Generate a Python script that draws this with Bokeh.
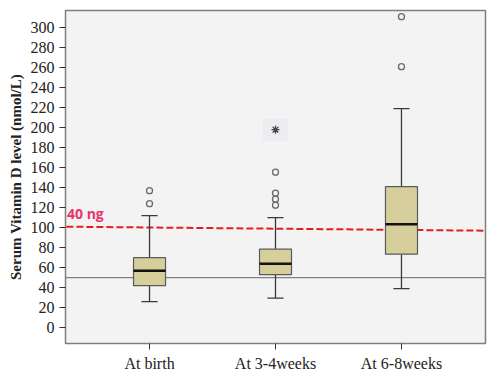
from bokeh.plotting import figure
from bokeh.models import FixedTicker, Label, ColumnDataSource
from bokeh.embed import file_html
from bokeh.resources import INLINE

categories = ["At birth", "At 3-4weeks", "At 6-8weeks"]
xpos = [1, 2, 3]
q1 = [41.5, 52.5, 73]
median = [56.5, 63.5, 103]
q3 = [69.5, 78, 140.5]
whisk_lo = [25.5, 29, 38.5]
whisk_hi = [111.5, 109.5, 218.5]
outlier_x = [1, 1, 2, 2, 2, 2, 3, 3]
outlier_y = [123.5, 136.5, 122, 128, 134, 155, 260.5, 310.5]
extreme_x = [2]
extreme_y = [197.5]
yticks = list(range(0, 301, 20))
ref_line_y = [100.5, 96.5]
ref_line_x = [0.34, 3.667]
low_line_y = 49.5

p = figure(width=496, height=379, x_range=(0.333, 3.667), y_range=(-16.3, 316.7),
           output_backend="svg", toolbar_location=None,
           min_border_left=65, min_border_right=11, min_border_top=10, min_border_bottom=36)
p.background_fill_color = "#f3f3f3"
p.border_fill_color = "white"
p.outline_line_color = "#7f7f7f"
p.outline_line_width = 1.5
p.grid.visible = False

src = ColumnDataSource(dict(x=xpos, q1=q1, med=median, q3=q3, lo=whisk_lo, hi=whisk_hi))

# reference lines
p.line(ref_line_x, ref_line_y, line_color="#e41e1e", line_width=2, line_dash="7 3")
p.line([0.333, 3.667], [low_line_y, low_line_y], line_color="#808080", line_width=1.3)

# whiskers
p.segment(x0="x", y0="lo", x1="x", y1="q1", source=src, line_color="#3a3a3a", line_width=1.3)
p.segment(x0="x", y0="q3", x1="x", y1="hi", source=src, line_color="#3a3a3a", line_width=1.3)
capw = 0.064
p.segment(x0=[x - capw for x in xpos], y0=whisk_lo, x1=[x + capw for x in xpos], y1=whisk_lo,
          line_color="#3a3a3a", line_width=1.3)
p.segment(x0=[x - capw for x in xpos], y0=whisk_hi, x1=[x + capw for x in xpos], y1=whisk_hi,
          line_color="#3a3a3a", line_width=1.3)

# boxes
p.vbar(x="x", top="q3", bottom="q1", width=0.254, source=src,
       fill_color="#d6cf9c", line_color="#5a5a5a", line_width=1.2)
p.segment(x0=[x - 0.127 for x in xpos], y0=median, x1=[x + 0.127 for x in xpos], y1=median,
          line_color="#111111", line_width=2.6)

# outliers
p.scatter(outlier_x, outlier_y, size=6, marker="circle", fill_color=None,
          line_color="#6a6a6a", line_width=1.3)
p.rect(extreme_x, extreme_y, width=0.2, height=22, fill_color="#ebedf0", line_color=None)
p.scatter(extreme_x, extreme_y, size=8, marker="asterisk", line_color="#444444", line_width=1.3)

lab = Label(x=0.345, y=104, text="40 ng", text_color="#e8336d", text_font="Open Sans",
            text_font_style="bold", text_font_size="14px")
p.add_layout(lab)

p.xaxis.ticker = FixedTicker(ticks=xpos)
p.xaxis.major_label_overrides = {x: c for x, c in zip(xpos, categories)}
p.yaxis.ticker = FixedTicker(ticks=yticks)
p.xaxis.minor_tick_line_color = None
p.yaxis.minor_tick_line_color = None
for ax in (p.xaxis[0], p.yaxis[0]):
    ax.axis_line_color = None
    ax.major_tick_line_color = "#333333"
    ax.major_tick_out = 6
    ax.major_tick_in = 0
    ax.major_label_text_font = "Liberation Serif"
    ax.major_label_text_font_size = "16px"
    ax.major_label_text_color = "#222222"
    ax.major_label_standoff = 5
p.yaxis.axis_label = "Serum Vitamin D level (nmol/L)"
p.yaxis.axis_label_text_font = "Liberation Serif"
p.yaxis.axis_label_text_font_style = "bold"
p.yaxis.axis_label_text_font_size = "15px"
p.yaxis.axis_label_text_color = "#222222"
p.yaxis.axis_label_standoff = 4

open("out.html", "w").write(file_html(p, INLINE))
